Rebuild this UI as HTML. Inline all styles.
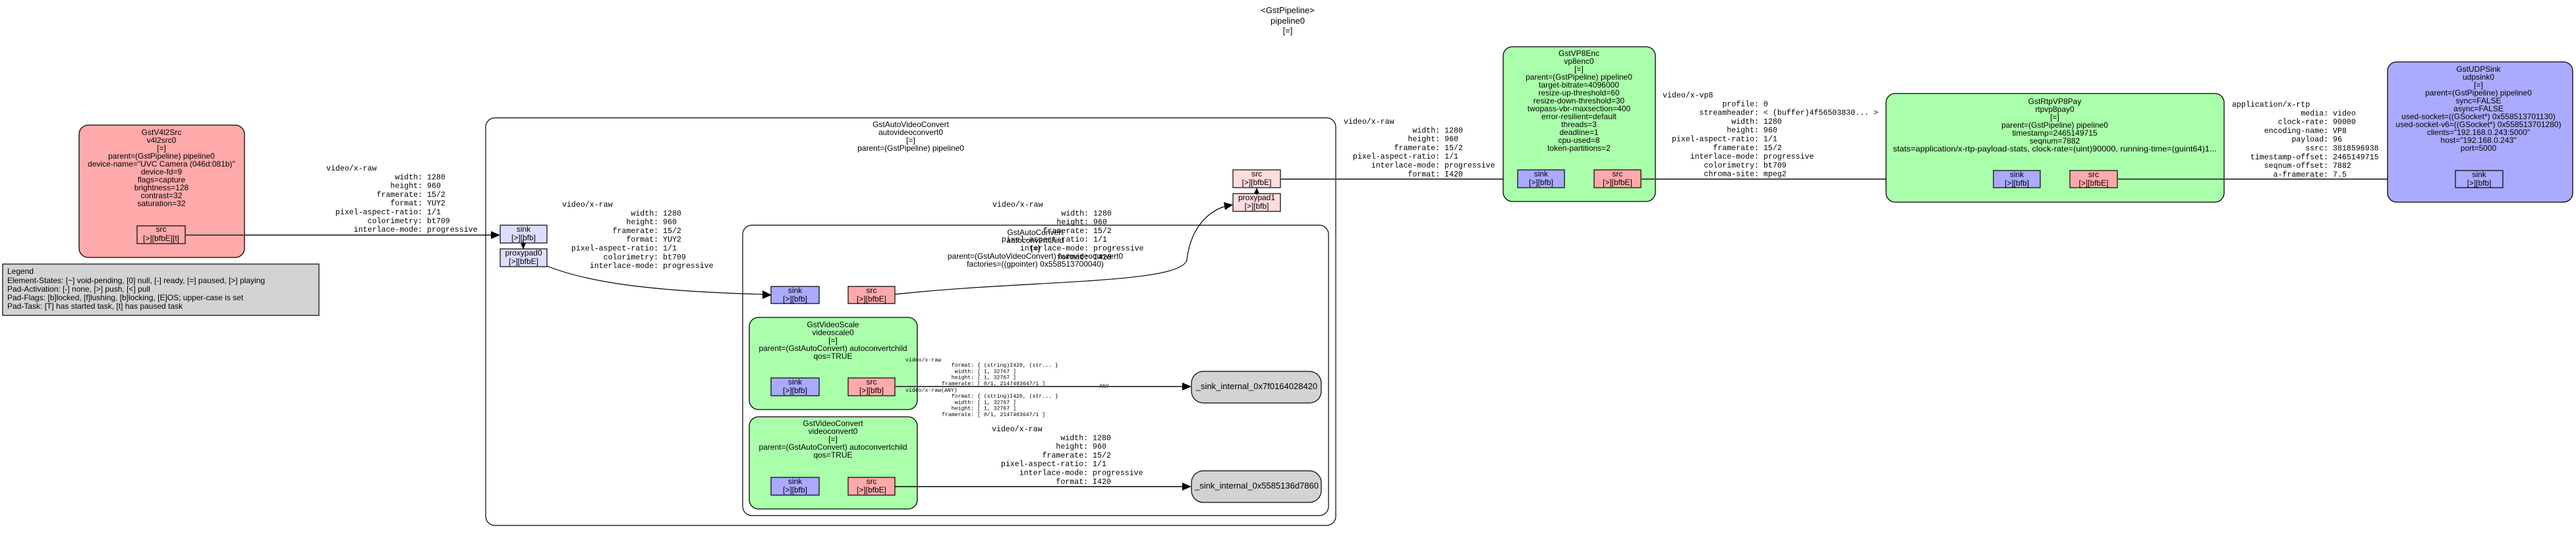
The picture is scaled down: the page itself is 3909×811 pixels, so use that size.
<!DOCTYPE html>
<html><head><meta charset="utf-8"><style>
html,body{margin:0;padding:0;background:#fff;}
svg{display:block}
.s{font-family:"Liberation Sans",sans-serif;font-size:12px;fill:#000}
.m{font-family:"Liberation Mono",monospace;font-size:11.6px;fill:#000;white-space:pre}
.t{font-family:"Liberation Mono",monospace;font-size:8.2px;fill:#000;white-space:pre}
.p{font-family:"Liberation Sans",sans-serif;font-size:12px;fill:#000;text-anchor:middle}
.c{text-anchor:middle}
.e{stroke:#4a4a4a;stroke-width:2;fill:none}
.k{stroke:#000;stroke-width:1.2;fill:none}
.a{fill:#000}
.pad{stroke:#000;stroke-width:1.2}
</style></head><body>
<svg width="3909" height="811" viewBox="0 0 3909 811" xmlns="http://www.w3.org/2000/svg" xml:space="preserve">
<!-- pipeline title -->
<text class="s c" style="font-size:13px" x="1954" y="20">&lt;GstPipeline&gt;</text>
<text class="s c" style="font-size:13px" x="1954" y="36">pipeline0</text>
<text class="s c" style="font-size:13px" x="1954" y="51">[=]</text>

<!-- legend -->
<rect x="4" y="401" width="480" height="78" fill="#d3d3d3" stroke="#000" stroke-width="1.2"/>
<text class="s" x="11" y="416">Legend</text>
<text class="s" x="11" y="430">Element-States: [~] void-pending, [0] null, [-] ready, [=] paused, [&gt;] playing</text>
<text class="s" x="11" y="443">Pad-Activation: [-] none, [&gt;] push, [&lt;] pull</text>
<text class="s" x="11" y="456">Pad-Flags: [b]locked, [f]lushing, [b]locking, [E]OS; upper-case is set</text>
<text class="s" x="11" y="469">Pad-Task: [T] has started task, [t] has paused task</text>

<!-- v4l2src -->
<rect x="120" y="190" width="251" height="201" rx="14" fill="#ffaaaa" stroke="#000" stroke-width="1.3"/>
<g class="s c">
<text x="245" y="205">GstV4l2Src</text>
<text x="245" y="217">v4l2src0</text>
<text x="245" y="229">[=]</text>
<text x="245" y="241">parent=(GstPipeline) pipeline0</text>
<text x="245" y="253">device-name="UVC Camera (046d:081b)"</text>
<text x="245" y="265">device-fd=9</text>
<text x="245" y="277">flags=capture</text>
<text x="245" y="289">brightness=128</text>
<text x="245" y="301">contrast=32</text>
<text x="245" y="313">saturation=32</text>
</g>
<rect class="pad" x="208" y="343" width="73" height="27" fill="#ffaaaa"/>
<text class="p" x="244.5" y="352">src</text><text class="p" x="244.5" y="366">[&gt;][bfbE][t]</text>

<!-- label 1 -->
<text class="m" x="495" y="259">video/x-raw<tspan x="495" dy="13.3">               width: 1280</tspan><tspan x="495" dy="13.3">              height: 960</tspan><tspan x="495" dy="13.3">           framerate: 15/2</tspan><tspan x="495" dy="13.3">              format: YUY2</tspan><tspan x="495" dy="13.3">  pixel-aspect-ratio: 1/1</tspan><tspan x="495" dy="13.3">         colorimetry: bt709</tspan><tspan x="495" dy="13.3">      interlace-mode: progressive</tspan></text>
<path class="e" d="M281,357 L746,357"/>
<polygon class="a" points="745,351 759,357 745,363"/>

<!-- autovideoconvert -->
<rect x="737" y="179" width="1290" height="619" rx="14" fill="none" stroke="#000" stroke-width="1.2"/>
<g class="s c">
<text x="1382" y="193">GstAutoVideoConvert</text>
<text x="1382" y="205">autovideoconvert0</text>
<text x="1382" y="217">[=]</text>
<text x="1382" y="229">parent=(GstPipeline) pipeline0</text>
</g>
<rect class="pad" x="759" y="342" width="71" height="27" fill="#ddddff"/>
<text class="p" x="794.5" y="352">sink</text><text class="p" x="794.5" y="365">[&gt;][bfb]</text>
<rect class="pad" x="759" y="378" width="71" height="27" fill="#ddddff"/>
<text class="p" x="794.5" y="388">proxypad0</text><text class="p" x="794.5" y="401">[&gt;][bfbE]</text>
<path class="k" d="M794,364 L794,372"/><polygon class="a" points="790,369 798,369 794,379"/>

<!-- label 2 -->
<text class="m" x="853" y="314">video/x-raw<tspan x="853" dy="13.3">               width: 1280</tspan><tspan x="853" dy="13.3">              height: 960</tspan><tspan x="853" dy="13.3">           framerate: 15/2</tspan><tspan x="853" dy="13.3">              format: YUY2</tspan><tspan x="853" dy="13.3">  pixel-aspect-ratio: 1/1</tspan><tspan x="853" dy="13.3">         colorimetry: bt709</tspan><tspan x="853" dy="13.3">      interlace-mode: progressive</tspan></text>
<path class="k" d="M830,404 C900,432 1010,443 1158,447"/>
<polygon class="a" points="1157,441 1171,448 1157,454"/>

<!-- src ghost / proxypad1 -->
<rect class="pad" x="1871" y="258" width="72" height="27" fill="#ffdddd"/>
<text class="p" x="1907" y="268">src</text><text class="p" x="1907" y="281">[&gt;][bfbE]</text>
<rect class="pad" x="1871" y="294" width="72" height="27" fill="#ffdddd"/>
<text class="p" x="1907" y="304">proxypad1</text><text class="p" x="1907" y="317">[&gt;][bfb]</text>
<path class="k" d="M1907,296 L1907,289"/><polygon class="a" points="1903,294 1911,294 1907,285"/>

<!-- label 3 -->
<text class="m" x="1506" y="314">video/x-raw<tspan x="1506" dy="13.3">               width: 1280</tspan><tspan x="1506" dy="13.3">              height: 960</tspan><tspan x="1506" dy="13.3">           framerate: 15/2</tspan><tspan x="1506" dy="13.3">  pixel-aspect-ratio: 1/1</tspan><tspan x="1506" dy="13.3">      interlace-mode: progressive</tspan><tspan x="1506" dy="13.3">              format: I420</tspan></text>

<!-- autoconvert -->
<rect x="1127" y="342" width="889" height="441" rx="14" fill="none" stroke="#000" stroke-width="1.2"/>
<g class="s c">
<text x="1571" y="357">GstAutoConvert</text>
<text x="1571" y="369">autoconvertchild</text>
<text x="1571" y="381">[=]</text>
<text x="1571" y="393">parent=(GstAutoVideoConvert) autovideoconvert0</text>
<text x="1571" y="405">factories=((gpointer) 0x558513700040)</text>
</g>
<rect class="pad" x="1170" y="435" width="73" height="26" fill="#aaaaff"/>
<text class="p" x="1206.5" y="445">sink</text><text class="p" x="1206.5" y="458">[&gt;][bfb]</text>
<rect class="pad" x="1287" y="435" width="71" height="26" fill="#ffaaaa"/>
<text class="p" x="1322.5" y="445">src</text><text class="p" x="1322.5" y="458">[&gt;][bfbE]</text>
<path class="k" d="M1358,447 C1560,425 1790,432 1801,395 C1806,350 1830,322 1860,313"/>
<polygon class="a" points="1857,307 1871,311 1859,319"/>

<!-- videoscale -->
<rect x="1137" y="482" width="255" height="140" rx="14" fill="#aaffaa" stroke="#000" stroke-width="1.3"/>
<g class="s c">
<text x="1264" y="497">GstVideoScale</text>
<text x="1264" y="509">videoscale0</text>
<text x="1264" y="521">[=]</text>
<text x="1264" y="533">parent=(GstAutoConvert) autoconvertchild</text>
<text x="1264" y="545">qos=TRUE</text>
</g>
<rect class="pad" x="1170" y="574" width="73" height="27" fill="#aaaaff"/>
<text class="p" x="1206.5" y="584">sink</text><text class="p" x="1206.5" y="597">[&gt;][bfb]</text>
<rect class="pad" x="1287" y="574" width="71" height="27" fill="#ffaaaa"/>
<text class="p" x="1322.5" y="584">src</text><text class="p" x="1322.5" y="597">[&gt;][bfb]</text>

<!-- tiny labels -->
<text class="t" x="1374" y="549">video/x-raw</text>
<text class="t" x="1429" y="557">   format: { (string)I420, (str... }<tspan x="1429" dy="9.3">    width: [ 1, 32767 ]</tspan><tspan x="1429" dy="9.3">   height: [ 1, 32767 ]</tspan><tspan x="1429" dy="9.3">framerate: [ 0/1, 2147483647/1 ]</tspan></text>
<text class="t" x="1374" y="595">video/x-raw(ANY)</text>
<text class="t" x="1429" y="604">   format: { (string)I420, (str... }<tspan x="1429" dy="9.3">    width: [ 1, 32767 ]</tspan><tspan x="1429" dy="9.3">   height: [ 1, 32767 ]</tspan><tspan x="1429" dy="9.3">framerate: [ 0/1, 2147483647/1 ]</tspan></text>
<text class="t" x="1668" y="589">ANY</text>
<path class="e" d="M1358,587 L1795,587"/>
<polygon class="a" points="1794,581 1808,587 1794,593"/>

<!-- videoconvert -->
<rect x="1137" y="633" width="255" height="140" rx="14" fill="#aaffaa" stroke="#000" stroke-width="1.3"/>
<g class="s c">
<text x="1264" y="647">GstVideoConvert</text>
<text x="1264" y="659">videoconvert0</text>
<text x="1264" y="671">[=]</text>
<text x="1264" y="683">parent=(GstAutoConvert) autoconvertchild</text>
<text x="1264" y="695">qos=TRUE</text>
</g>
<rect class="pad" x="1170" y="725" width="73" height="27" fill="#aaaaff"/>
<text class="p" x="1206.5" y="735">sink</text><text class="p" x="1206.5" y="748">[&gt;][bfb]</text>
<rect class="pad" x="1287" y="725" width="71" height="27" fill="#ffaaaa"/>
<text class="p" x="1322.5" y="735">src</text><text class="p" x="1322.5" y="748">[&gt;][bfbE]</text>

<!-- label 5 -->
<text class="m" x="1505" y="655">video/x-raw<tspan x="1505" dy="13.3">               width: 1280</tspan><tspan x="1505" dy="13.3">              height: 960</tspan><tspan x="1505" dy="13.3">           framerate: 15/2</tspan><tspan x="1505" dy="13.3">  pixel-aspect-ratio: 1/1</tspan><tspan x="1505" dy="13.3">      interlace-mode: progressive</tspan><tspan x="1505" dy="13.3">              format: I420</tspan></text>
<path class="k" d="M1358,739 L1795,739" style="stroke-width:1.5"/>
<polygon class="a" points="1794,733 1808,739 1794,745"/>

<!-- sink_internal nodes -->
<rect x="1808" y="564" width="197" height="48" rx="18" fill="#d3d3d3" stroke="#000" stroke-width="1.2"/>
<text class="s c" style="font-size:13px" x="1907" y="591">_sink_internal_0x7f0164028420</text>
<rect x="1808" y="715" width="197" height="48" rx="18" fill="#d3d3d3" stroke="#000" stroke-width="1.2"/>
<text class="s c" style="font-size:13px" x="1907" y="742">_sink_internal_0x5585136d7860</text>

<!-- edge to vp8enc -->
<path class="e" d="M1943,272 L2290,272"/>
<polygon class="a" points="2289,266 2303,272 2289,278"/>
<text class="m" x="2039" y="188">video/x-raw<tspan x="2039" dy="13.3">               width: 1280</tspan><tspan x="2039" dy="13.3">              height: 960</tspan><tspan x="2039" dy="13.3">           framerate: 15/2</tspan><tspan x="2039" dy="13.3">  pixel-aspect-ratio: 1/1</tspan><tspan x="2039" dy="13.3">      interlace-mode: progressive</tspan><tspan x="2039" dy="13.3">              format: I420</tspan></text>

<!-- vp8enc -->
<rect x="2281" y="71" width="231" height="235" rx="14" fill="#aaffaa" stroke="#000" stroke-width="1.3"/>
<g class="s c">
<text x="2396" y="85">GstVP8Enc</text>
<text x="2396" y="97">vp8enc0</text>
<text x="2396" y="109">[=]</text>
<text x="2396" y="121">parent=(GstPipeline) pipeline0</text>
<text x="2396" y="133">target-bitrate=4096000</text>
<text x="2396" y="145">resize-up-threshold=60</text>
<text x="2396" y="157">resize-down-threshold=30</text>
<text x="2396" y="169">twopass-vbr-maxsection=400</text>
<text x="2396" y="181">error-resilient=default</text>
<text x="2396" y="193">threads=3</text>
<text x="2396" y="205">deadline=1</text>
<text x="2396" y="217">cpu-used=8</text>
<text x="2396" y="229">token-partitions=2</text>
</g>
<rect class="pad" x="2303" y="258" width="71" height="27" fill="#aaaaff"/>
<text class="p" x="2338.5" y="268">sink</text><text class="p" x="2338.5" y="281">[&gt;][bfb]</text>
<rect class="pad" x="2419" y="258" width="71" height="27" fill="#ffaaaa"/>
<text class="p" x="2454.5" y="268">src</text><text class="p" x="2454.5" y="281">[&gt;][bfbE]</text>

<!-- vp8 caps -->
<path class="e" d="M2490,272 L3012,272"/>
<polygon class="a" points="3011,266 3025,272 3011,278"/>
<text class="m" x="2523" y="148">video/x-vp8<tspan x="2523" dy="13.3">             profile: 0</tspan><tspan x="2523" dy="13.3">        streamheader: &lt; (buffer)4f56503830... &gt;</tspan><tspan x="2523" dy="13.3">               width: 1280</tspan><tspan x="2523" dy="13.3">              height: 960</tspan><tspan x="2523" dy="13.3">  pixel-aspect-ratio: 1/1</tspan><tspan x="2523" dy="13.3">           framerate: 15/2</tspan><tspan x="2523" dy="13.3">      interlace-mode: progressive</tspan><tspan x="2523" dy="13.3">         colorimetry: bt709</tspan><tspan x="2523" dy="13.3">         chroma-site: mpeg2</tspan></text>

<!-- rtpvp8pay -->
<rect x="2862" y="142" width="513" height="165" rx="14" fill="#aaffaa" stroke="#000" stroke-width="1.3"/>
<g class="s c">
<text x="3118" y="158">GstRtpVP8Pay</text>
<text x="3118" y="170">rtpvp8pay0</text>
<text x="3118" y="182">[=]</text>
<text x="3118" y="194">parent=(GstPipeline) pipeline0</text>
<text x="3118" y="206">timestamp=2465149715</text>
<text x="3118" y="218">seqnum=7882</text>
<text x="3118" y="230" textLength="491" lengthAdjust="spacingAndGlyphs">stats=application/x-rtp-payload-stats, clock-rate=(uint)90000, running-time=(guint64)1...</text>
</g>
<rect class="pad" x="3025" y="259" width="71" height="26" fill="#aaaaff"/>
<text class="p" x="3060.5" y="269">sink</text><text class="p" x="3060.5" y="282">[&gt;][bfb]</text>
<rect class="pad" x="3141" y="259" width="72" height="26" fill="#ffaaaa"/>
<text class="p" x="3177" y="269">src</text><text class="p" x="3177" y="282">[&gt;][bfbE]</text>

<!-- rtp caps -->
<path class="e" d="M3213,272 L3713,272"/>
<polygon class="a" points="3712,266 3726,272 3712,278"/>
<text class="m" x="3387" y="162">application/x-rtp<tspan x="3387" dy="13.3">               media: video</tspan><tspan x="3387" dy="13.3">          clock-rate: 90000</tspan><tspan x="3387" dy="13.3">       encoding-name: VP8</tspan><tspan x="3387" dy="13.3">             payload: 96</tspan><tspan x="3387" dy="13.3">                ssrc: 3818596938</tspan><tspan x="3387" dy="13.3">    timestamp-offset: 2465149715</tspan><tspan x="3387" dy="13.3">       seqnum-offset: 7882</tspan><tspan x="3387" dy="13.3">         a-framerate: 7.5</tspan></text>

<!-- udpsink -->
<rect x="3623" y="94" width="281" height="213" rx="14" fill="#aaaaff" stroke="#000" stroke-width="1.3"/>
<g class="s c">
<text x="3761" y="109">GstUDPSink</text>
<text x="3761" y="121">udpsink0</text>
<text x="3761" y="133">[=]</text>
<text x="3761" y="145">parent=(GstPipeline) pipeline0</text>
<text x="3761" y="157">sync=FALSE</text>
<text x="3761" y="169">async=FALSE</text>
<text x="3761" y="181">used-socket=((GSocket*) 0x558513701130)</text>
<text x="3761" y="193">used-socket-v6=((GSocket*) 0x558513701280)</text>
<text x="3761" y="205">clients="192.168.0.243:5000"</text>
<text x="3761" y="217">host="192.168.0.243"</text>
<text x="3761" y="229">port=5000</text>
</g>
<rect class="pad" x="3726" y="259" width="72" height="26" fill="#aaaaff"/>
<text class="p" x="3762" y="269">sink</text><text class="p" x="3762" y="282">[&gt;][bfb]</text>
</svg>
</body></html>
